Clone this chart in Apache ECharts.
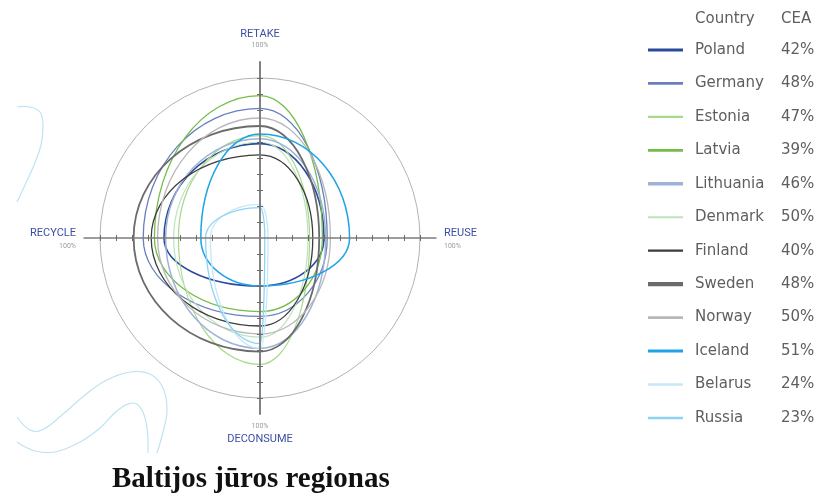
<!DOCTYPE html>
<html>
<head>
<meta charset="utf-8">
<script src="https://cdn.jsdelivr.net/npm/echarts@6/dist/echarts.min.js"></script>
<style>
html,body{margin:0;padding:0;background:#fff;}
#chart{width:823px;height:495px;}
</style>
</head>
<body>
<div id="chart"></div>
<script>
// ---- data ----
const categories = ['RETAKE', 'REUSE', 'DECONSUME', 'RECYCLE'];
const axisAngles = [0, 90, 180, 270];
const countries = ['Poland', 'Germany', 'Estonia', 'Latvia', 'Lithuania', 'Denmark',
  'Finland', 'Sweden', 'Norway', 'Iceland', 'Belarus', 'Russia'];
const ceaLabels = ['42%', '48%', '47%', '39%', '46%', '50%', '40%', '48%', '50%', '51%', '24%', '23%'];
// values in % for RETAKE, REUSE, DECONSUME, RECYCLE
const poland    = [59, 40, 30, 60];
const germany   = [81, 42, 49, 73];
const estonia   = [64, 31, 79, 51];
const latvia    = [89, 39, 46, 66];
const lithuania = [62, 41, 69, 59];
const denmark   = [60, 30, 62, 54];
const finland   = [52, 33, 55, 68];
const sweden    = [70, 37, 71, 79];
const norway    = [75, 44, 60, 64];
const iceland   = [65, 56, 30, 37];
const belarus   = [21, 5, 69, 31];
const russia    = [19, 3, 66, 34];

// ---- styles ----
const seriesValues = [poland, germany, estonia, latvia, lithuania, denmark, finland, sweden, norway, iceland, belarus, russia];
const colors = ['#2b4a9b', '#6a7fbf', '#a6d98a', '#74bd4a', '#9fb2d8', '#bde3bd',
  '#3c3c3c', '#6b6b6b', '#b8b8b8', '#1ea3e6', '#c7e8f8', '#8fd3f3'];
const lineWidths = [1.6, 1.3, 1.2, 1.3, 1.5, 1.2, 1.3, 1.8, 1.3, 1.5, 1.3, 1.3];
const legendThick = [3.2, 2.7, 2.2, 2.6, 3.6, 2.2, 2.2, 4.2, 2.6, 3.0, 2.6, 2.6];

const CX = 260, CY = 238, R = 160;
const chart = echarts.init(document.getElementById('chart'));

function renderSeg(color, width) {
  return function (params, api) {
    const i = params.dataIndexInside;
    const j = (i + 1) % 4;
    const p0 = api.coord([api.value(0, i), api.value(1, i)]);
    const p1 = api.coord([api.value(0, j), api.value(1, j)]);
    const o = api.coord([0, api.value(1, i)]);
    const k = 0.5523;
    return {
      type: 'bezierCurve',
      shape: {
        x1: p0[0], y1: p0[1],
        cpx1: p0[0] + k * (p1[0] - o[0]), cpy1: p0[1] + k * (p1[1] - o[1]),
        cpx2: p1[0] + k * (p0[0] - o[0]), cpy2: p1[1] + k * (p0[1] - o[1]),
        x2: p1[0], y2: p1[1]
      },
      style: { stroke: color, lineWidth: width, fill: null }
    };
  };
}

const series = countries.map(function (name, s) {
  return {
    type: 'custom',
    name: name,
    coordinateSystem: 'polar',
    polarIndex: 0,
    itemStyle: { color: colors[s] },
    data: seriesValues[s].map(function (v, i) { return [v, axisAngles[i]]; }),
    renderItem: renderSeg(colors[s], lineWidths[s]),
    silent: true,
    z: 2
  };
});

function iconPath(t) {
  const a = 8 - t / 2, b = 8 + t / 2;
  return 'path://M0,0M35,16M0,' + a + 'L35,' + a + 'L35,' + b + 'L0,' + b + 'Z';
}

const labelRich = {
  a: { fontFamily: 'Roboto', fontSize: 11, color: '#3b4fa3', lineHeight: 16 },
  at: { fontFamily: 'Roboto', fontSize: 11, color: '#3b4fa3', lineHeight: 16, padding: [0, 0, 5, 0] },
  p: { fontFamily: 'Roboto', fontSize: 7, color: '#9a9a9a', lineHeight: 9 },
  pt: { fontFamily: 'Roboto', fontSize: 7, color: '#9a9a9a', lineHeight: 9, padding: [0, 0, 8, 0] }
};

const tickVals = [];
for (let v = -100; v <= 100; v += 10) { if (v !== 0) tickVals.push(v); }

function cartAxis(dim, inside, showLine) {
  return {
    type: 'value', min: -110, max: 110, interval: 10,
    position: dim === 'x' ? 'bottom' : 'left',
    axisLine: { show: showLine, onZero: true, lineStyle: { color: dim === 'x' ? '#7d7d7d' : '#747474', width: dim === 'x' ? 1.5 : 1.8 } },
    axisTick: { show: true, inside: inside, length: 3, customValues: tickVals, lineStyle: { color: '#6a6a6a', width: 1 } },
    axisLabel: { show: false },
    splitLine: { show: false },
    z: 3
  };
}

const option = {
  backgroundColor: '#ffffff',
  animation: false,
  title: [
    {
      text: 'Baltijos jūros regionas',
      left: 112, top: 465, padding: 0,
      textStyle: { fontFamily: 'Liberation Serif', fontWeight: 'bold', fontSize: 29, color: '#111111' }
    },
    {
      text: '{c|Country}{e|CEA}',
      left: 695, top: 12, padding: 0,
      textStyle: {
        fontWeight: 'normal',
        rich: {
          c: { fontFamily: 'DejaVu Sans', fontSize: 15, fontWeight: 'normal', color: '#5e5e5e', width: 86 },
          e: { fontFamily: 'DejaVu Sans', fontSize: 15, fontWeight: 'normal', color: '#5e5e5e' }
        }
      }
    }
  ],
  legend: {
    orient: 'vertical',
    left: 648, top: 42, padding: 0,
    itemWidth: 35, itemHeight: 16, itemGap: 17.45,
    selectedMode: false,
    data: countries.map(function (n, s) {
      return { name: n, icon: iconPath(legendThick[s]), itemStyle: { color: colors[s], borderWidth: 0 } };
    }),
    formatter: function (name) {
      return '{n|' + name + '}{v|' + ceaLabels[countries.indexOf(name)] + '}';
    },
    textStyle: {
      color: '#5e5e5e', fontFamily: 'DejaVu Sans', fontSize: 15, lineHeight: 16,
      rich: {
        n: { fontFamily: 'DejaVu Sans', fontSize: 15, color: '#5e5e5e', width: 86, padding: [0, 0, 0, 7], lineHeight: 16 },
        v: { fontFamily: 'DejaVu Sans', fontSize: 15, color: '#5e5e5e', lineHeight: 16 }
      }
    }
  },
  grid: { left: CX - 176, top: CY - 176, width: 352, height: 352, show: false },
  xAxis: [cartAxis('x', false, true), cartAxis('x', true, false)],
  yAxis: [cartAxis('y', false, true), cartAxis('y', true, false)],
  polar: [
    { center: [CX, CY], radius: R },
    { center: [CX, CY], radius: R }
  ],
  angleAxis: [
    {
      polarIndex: 0, type: 'value', min: 0, max: 360, startAngle: 90, clockwise: true,
      axisLine: { show: true, lineStyle: { color: '#b3b3b3', width: 1 } },
      axisTick: { show: false }, axisLabel: { show: false }, splitLine: { show: false }
    },
    {
      polarIndex: 1, type: 'category', data: categories, boundaryGap: false, startAngle: 90, clockwise: true,
      axisLine: { show: false }, axisTick: { show: false }, splitLine: { show: false },
      axisLabel: {
        show: true, margin: 24,
        formatter: function (v) {
          if (v === 'DECONSUME') return '{p|100%}\n{a|' + v + '}';
          if (v === 'RETAKE') return '{at|' + v + '}\n{pt|100%}';
          return '{a|' + v + '}\n{p|100%}';
        },
        rich: labelRich
      }
    }
  ],
  radiusAxis: [
    { polarIndex: 0, type: 'value', min: 0, max: 100, show: false },
    { polarIndex: 1, type: 'value', min: 0, max: 100, show: false }
  ],
  graphic: [
    { type: 'polyline', silent: true, z: -1, shape: { smooth: 0.4, points: [[17,107],[30,107],[40,112],[43,125],[41,145],[34,165],[25,185],[17,202]] }, style: { stroke: '#bfe3f5', lineWidth: 1.2, fill: null } },
    { type: 'polyline', silent: true, z: -1, shape: { smooth: 0.4, points: [[17,417],[30,430],[42,430],[62,415],[85,395],[105,381],[130,372],[150,374],[163,388],[167,410],[163,432],[157,453]] }, style: { stroke: '#bfe3f5', lineWidth: 1.2, fill: null } },
    { type: 'polyline', silent: true, z: -1, shape: { smooth: 0.4, points: [[17,442],[35,451],[55,452],[80,442],[100,428],[118,410],[133,403],[142,410],[147,428],[148,453]] }, style: { stroke: '#bfe3f5', lineWidth: 1.2, fill: null } }
  ],
  series: series
};
chart.setOption(option);
</script>
</body>
</html>
